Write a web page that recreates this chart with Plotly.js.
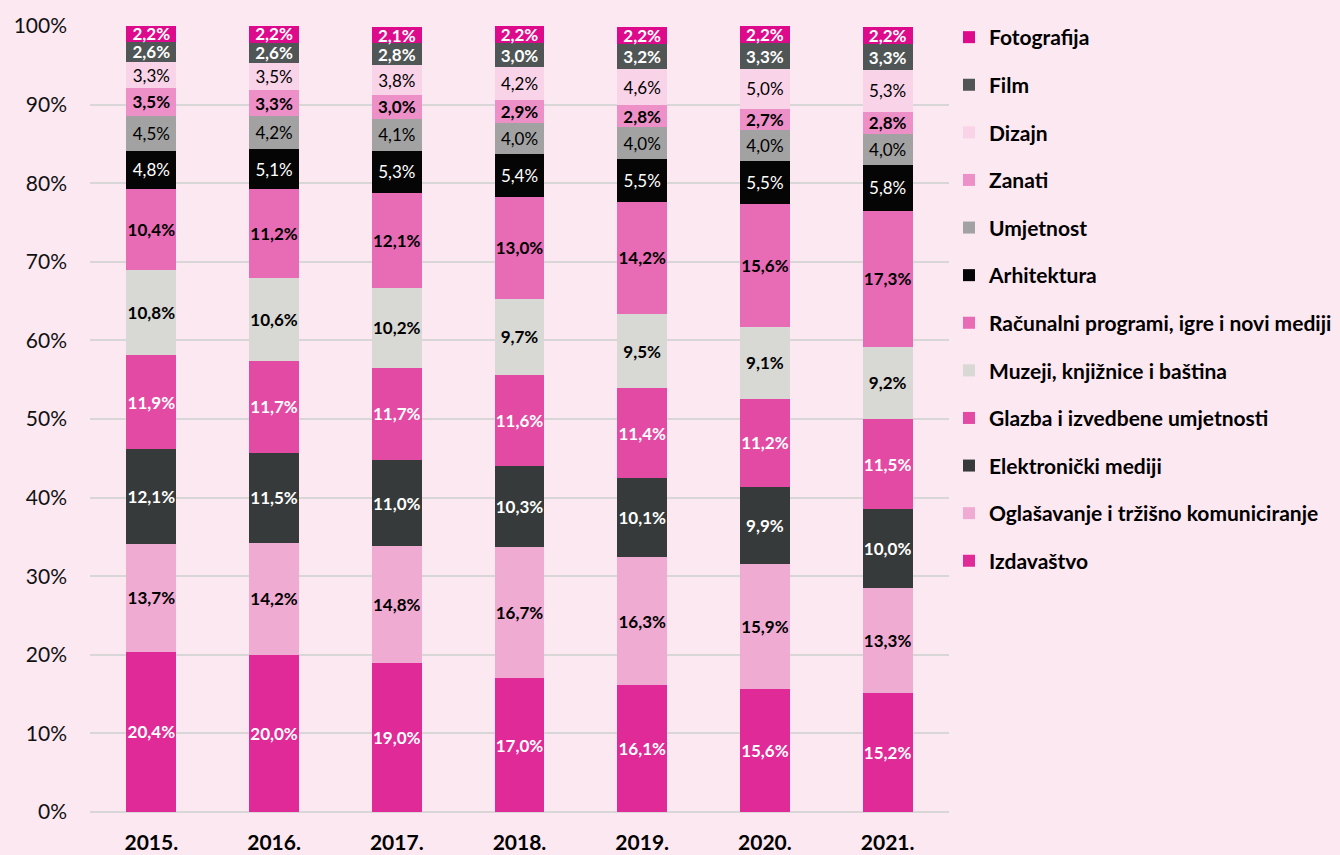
<!DOCTYPE html>
<html>
<head>
<meta charset="utf-8">
<script src="https://cdn.plot.ly/plotly-3.0.1.min.js"></script>
<style>html,body{margin:0;padding:0;background:#FCE8F1;}#chart{width:1340px;height:855px;}</style>
</head>
<body>
<div id="chart"></div>
<script>
const years = ['2015.', '2016.', '2017.', '2018.', '2019.', '2020.', '2021.'];

const izdavastvo   = [20.4, 20.0, 19.0, 17.0, 16.1, 15.6, 15.2];
const oglasavanje  = [13.7, 14.2, 14.8, 16.7, 16.3, 15.9, 13.3];
const elektronicki = [12.1, 11.5, 11.0, 10.3, 10.1, 9.9, 10.0];
const glazba       = [11.9, 11.7, 11.7, 11.6, 11.4, 11.2, 11.5];
const muzeji       = [10.8, 10.6, 10.2, 9.7, 9.5, 9.1, 9.2];
const racunalni    = [10.4, 11.2, 12.1, 13.0, 14.2, 15.6, 17.3];
const arhitektura  = [4.8, 5.1, 5.3, 5.4, 5.5, 5.5, 5.8];
const umjetnost    = [4.5, 4.2, 4.1, 4.0, 4.0, 4.0, 4.0];
const zanati       = [3.5, 3.3, 3.0, 2.9, 2.8, 2.7, 2.8];
const dizajn       = [3.3, 3.5, 3.8, 4.2, 4.6, 5.0, 5.3];
const film         = [2.6, 2.6, 2.8, 3.0, 3.2, 3.3, 3.3];
const fotografija  = [2.2, 2.2, 2.1, 2.2, 2.2, 2.2, 2.2];

const series = [
  {name: 'Izdavaštvo', y: izdavastvo, color: '#E02A97', text: '#FFFFFF', weight: 'bold'},
  {name: 'Oglašavanje i tržišno komuniciranje', y: oglasavanje, color: '#F0ABD3', text: '#000000', weight: 'bold'},
  {name: 'Elektronički mediji', y: elektronicki, color: '#373A3A', text: '#FFFFFF', weight: 'bold'},
  {name: 'Glazba i izvedbene umjetnosti', y: glazba, color: '#E34AA4', text: '#FFFFFF', weight: 'bold'},
  {name: 'Muzeji, knjižnice i baština', y: muzeji, color: '#D8D8D4', text: '#000000', weight: 'bold'},
  {name: 'Računalni programi, igre i novi mediji', y: racunalni, color: '#E86BB6', text: '#000000', weight: 'bold'},
  {name: 'Arhitektura', y: arhitektura, color: '#050505', text: '#FFFFFF', weight: 'normal'},
  {name: 'Umjetnost', y: umjetnost, color: '#A2A2A2', text: '#000000', weight: 'normal'},
  {name: 'Zanati', y: zanati, color: '#EE90C8', text: '#000000', weight: 'bold'},
  {name: 'Dizajn', y: dizajn, color: '#F9D3E8', text: '#000000', weight: 'normal'},
  {name: 'Film', y: film, color: '#505555', text: '#FFFFFF', weight: 'bold'},
  {name: 'Fotografija', y: fotografija, color: '#DD0B8B', text: '#FFFFFF', weight: 'bold'}
];

const FONT = 'Lato, "Open Sans", sans-serif';

const traces = series.map((s, i) => ({
  type: 'bar',
  name: s.name,
  x: years,
  y: s.y,
  legendgroup: 'g' + i,
  legendrank: 1000 - i,
  marker: {color: s.color, line: {width: 0}},
  texttemplate: '%{y:.1f}%',
  textposition: 'inside',
  insidetextanchor: 'middle',
  textangle: 0,
  constraintext: 'none',
  insidetextfont: {family: FONT, size: 17, color: s.text, weight: s.weight},
  hoverinfo: 'skip'
}));

const layout = {
  width: 1340,
  height: 855,
  barmode: 'stack',
  bargap: 0.593,
  separators: ',.',
  paper_bgcolor: '#FCE8F1',
  plot_bgcolor: '#FCE8F1',
  margin: {l: 90, r: 391, t: 26, b: 43},
  font: {family: FONT, color: '#000000'},
  showlegend: true,
  legend: {
    x: 949 / 1340, xref: 'container', xanchor: 'left',
    y: 1 - 17 / 855, yref: 'container', yanchor: 'top',
    traceorder: 'grouped',
    tracegroupgap: 17.3,
    maxheight: 1,
    font: {family: FONT, size: 21, color: '#000000', weight: 'bold'},
    bgcolor: 'rgba(0,0,0,0)',
    itemclick: false, itemdoubleclick: false
  },
  xaxis: {
    type: 'category',
    showgrid: false,
    zeroline: false,
    showline: false,
    ticks: '',
    ticklabelstandoff: 16,
    tickfont: {family: FONT, size: 21, color: '#000000', weight: 'bold'}
  },
  yaxis: {
    range: [0, 100],
    dtick: 10,
    ticksuffix: '%',
    showgrid: true,
    gridcolor: '#D9D6D8',
    gridwidth: 2,
    zeroline: true,
    zerolinecolor: '#D9D6D8',
    zerolinewidth: 2,
    showline: false,
    ticks: '',
    ticklabelstandoff: 22,
    tickfont: {family: FONT, size: 21, color: '#111111'}
  }
};

Plotly.newPlot('chart', traces, layout, {displayModeBar: false, staticPlot: true});
</script>
</body>
</html>
